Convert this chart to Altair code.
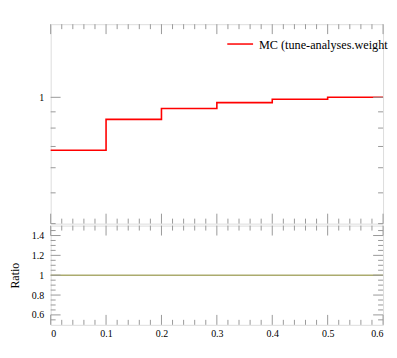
import altair as alt
import pandas as pd

# ---- data ----
bin_edges = [0.0, 0.1, 0.2, 0.3, 0.4, 0.5, 0.6]
mc_values = [0.681, 0.852, 0.922, 0.962, 0.986, 1.0]
ratio_values = [1.0, 1.0, 1.0, 1.0, 1.0, 1.0]
legend_label = ["MC (tune-analyses.weight"]

x_label_ticks = [0.0, 0.1, 0.2, 0.3, 0.4, 0.5, 0.6]
x_major_ticks = [0.0, 0.1, 0.2, 0.3, 0.4, 0.5, 0.6]
x_minor_ticks = [0.02, 0.04, 0.06, 0.08, 0.12, 0.14, 0.16, 0.18, 0.22, 0.24, 0.26, 0.28,
                 0.32, 0.34, 0.36, 0.38, 0.42, 0.44, 0.46, 0.48, 0.52, 0.54, 0.56, 0.58]
top_y_major = [1.0]
top_y_minor = [0.4, 0.5, 0.6, 0.7, 0.8, 0.9]
ratio_y_major = [0.6, 0.8, 1.0, 1.2, 1.4]
ratio_y_minor = [0.55, 0.65, 0.7, 0.75, 0.85, 0.9, 0.95, 1.05, 1.1, 1.15, 1.25, 1.3, 1.35, 1.45]

W = 335
H_TOP = 201
H_RAT = 100
MAJ = 10
MIN = 5
FRAME = "#a8a8a8"
TICK = "#999999"
FONT = "Liberation Serif"

xscale = alt.Scale(domain=[0, 0.6], nice=False, zero=False)
yscale_top = alt.Scale(type="log", domain=[0.4, 1.7], nice=False)
yscale_rat = alt.Scale(domain=[0.5, 1.5], nice=False, zero=False)

no_x_axis = alt.Axis(labels=False, ticks=False, domain=False, grid=False, title=None)
x_axis_bottom = alt.Axis(values=x_label_ticks, title=None, ticks=False, domain=False, grid=False,
                         labelFont=FONT, labelFontSize=10, labelColor="#000", labelPadding=4,
                         format="~g")
y_axis_top = alt.Axis(values=top_y_major, title=None, ticks=False, domain=False, grid=False,
                      labelFont=FONT, labelFontSize=10, labelColor="#000", labelPadding=7,
                      format="~g")
y_axis_rat = alt.Axis(values=ratio_y_major, title="Ratio", ticks=False, domain=False, grid=False,
                      labelFont=FONT, labelFontSize=10, labelColor="#000", labelPadding=7,
                      titleFont=FONT, titleFontSize=12, titleFontWeight="normal",
                      titleColor="#000", titlePadding=9.5, format="~g")

mc_df = pd.DataFrame({"x": bin_edges, "y": mc_values + [mc_values[-1]]})
rat_df = pd.DataFrame({"x": bin_edges, "y": ratio_values + [ratio_values[-1]]})


def xticks(vals, h, length, xaxis):
    df = pd.DataFrame({"x": vals})
    base = alt.Chart(df).mark_rule(color=TICK, strokeWidth=1)
    top = base.encode(x=alt.X("x:Q", scale=xscale, axis=xaxis),
                      y=alt.value(0), y2=alt.value(length))
    bot = base.encode(x=alt.X("x:Q", scale=xscale, axis=xaxis),
                      y=alt.value(h - length), y2=alt.value(h))
    return [top, bot]


def yticks(vals, scale, length, yaxis):
    df = pd.DataFrame({"y": vals})
    base = alt.Chart(df).mark_rule(color=TICK, strokeWidth=1)
    left = base.encode(y=alt.Y("y:Q", scale=scale, axis=yaxis),
                       x=alt.value(0), x2=alt.value(length))
    right = base.encode(y=alt.Y("y:Q", scale=scale, axis=yaxis),
                        x=alt.value(W - length), x2=alt.value(W))
    return [left, right]


# ---- top panel ----
mc_line = alt.Chart(mc_df).mark_line(interpolate="step-after", color="#ff0000", strokeWidth=1.6).encode(
    x=alt.X("x:Q", scale=xscale, axis=no_x_axis),
    y=alt.Y("y:Q", scale=yscale_top, axis=y_axis_top),
)
leg_df = pd.DataFrame({"label": legend_label})
leg_line = alt.Chart(leg_df).mark_rule(color="#ff0000", strokeWidth=1.5).encode(
    x=alt.value(178), x2=alt.value(204), y=alt.value(20))
leg_text = alt.Chart(leg_df).mark_text(align="left", baseline="alphabetic", font=FONT,
                                       fontSize=12.3, color="#000").encode(
    x=alt.value(210), y=alt.value(25), text="label:N")

top_layers = [mc_line] \
    + xticks(x_major_ticks, H_TOP, MAJ, no_x_axis) + xticks(x_minor_ticks, H_TOP, MIN, no_x_axis) \
    + yticks(top_y_major, yscale_top, MAJ, y_axis_top) + yticks(top_y_minor, yscale_top, MIN, y_axis_top) \
    + [leg_line, leg_text]
top = alt.layer(*top_layers).properties(width=W, height=H_TOP)

# ---- ratio panel ----
rat_line = alt.Chart(rat_df).mark_line(interpolate="step-after", color="#abab6e", strokeWidth=1.6).encode(
    x=alt.X("x:Q", scale=xscale, axis=x_axis_bottom),
    y=alt.Y("y:Q", scale=yscale_rat, axis=y_axis_rat),
)
rat_layers = [rat_line] \
    + xticks(x_major_ticks, H_RAT, MAJ, x_axis_bottom) + xticks(x_minor_ticks, H_RAT, MIN, x_axis_bottom) \
    + yticks(ratio_y_major, yscale_rat, MAJ, y_axis_rat) + yticks(ratio_y_minor, yscale_rat, MIN, y_axis_rat)
ratio = alt.layer(*rat_layers).properties(width=W, height=H_RAT)

chart = alt.vconcat(top, ratio, spacing=0).properties(
    padding={"left": 0, "top": 14, "right": 0, "bottom": 0}
).configure_view(stroke=FRAME, strokeWidth=1).configure(background="white")

chart.save("out.html", embed_options={"renderer": "svg", "actions": False})
